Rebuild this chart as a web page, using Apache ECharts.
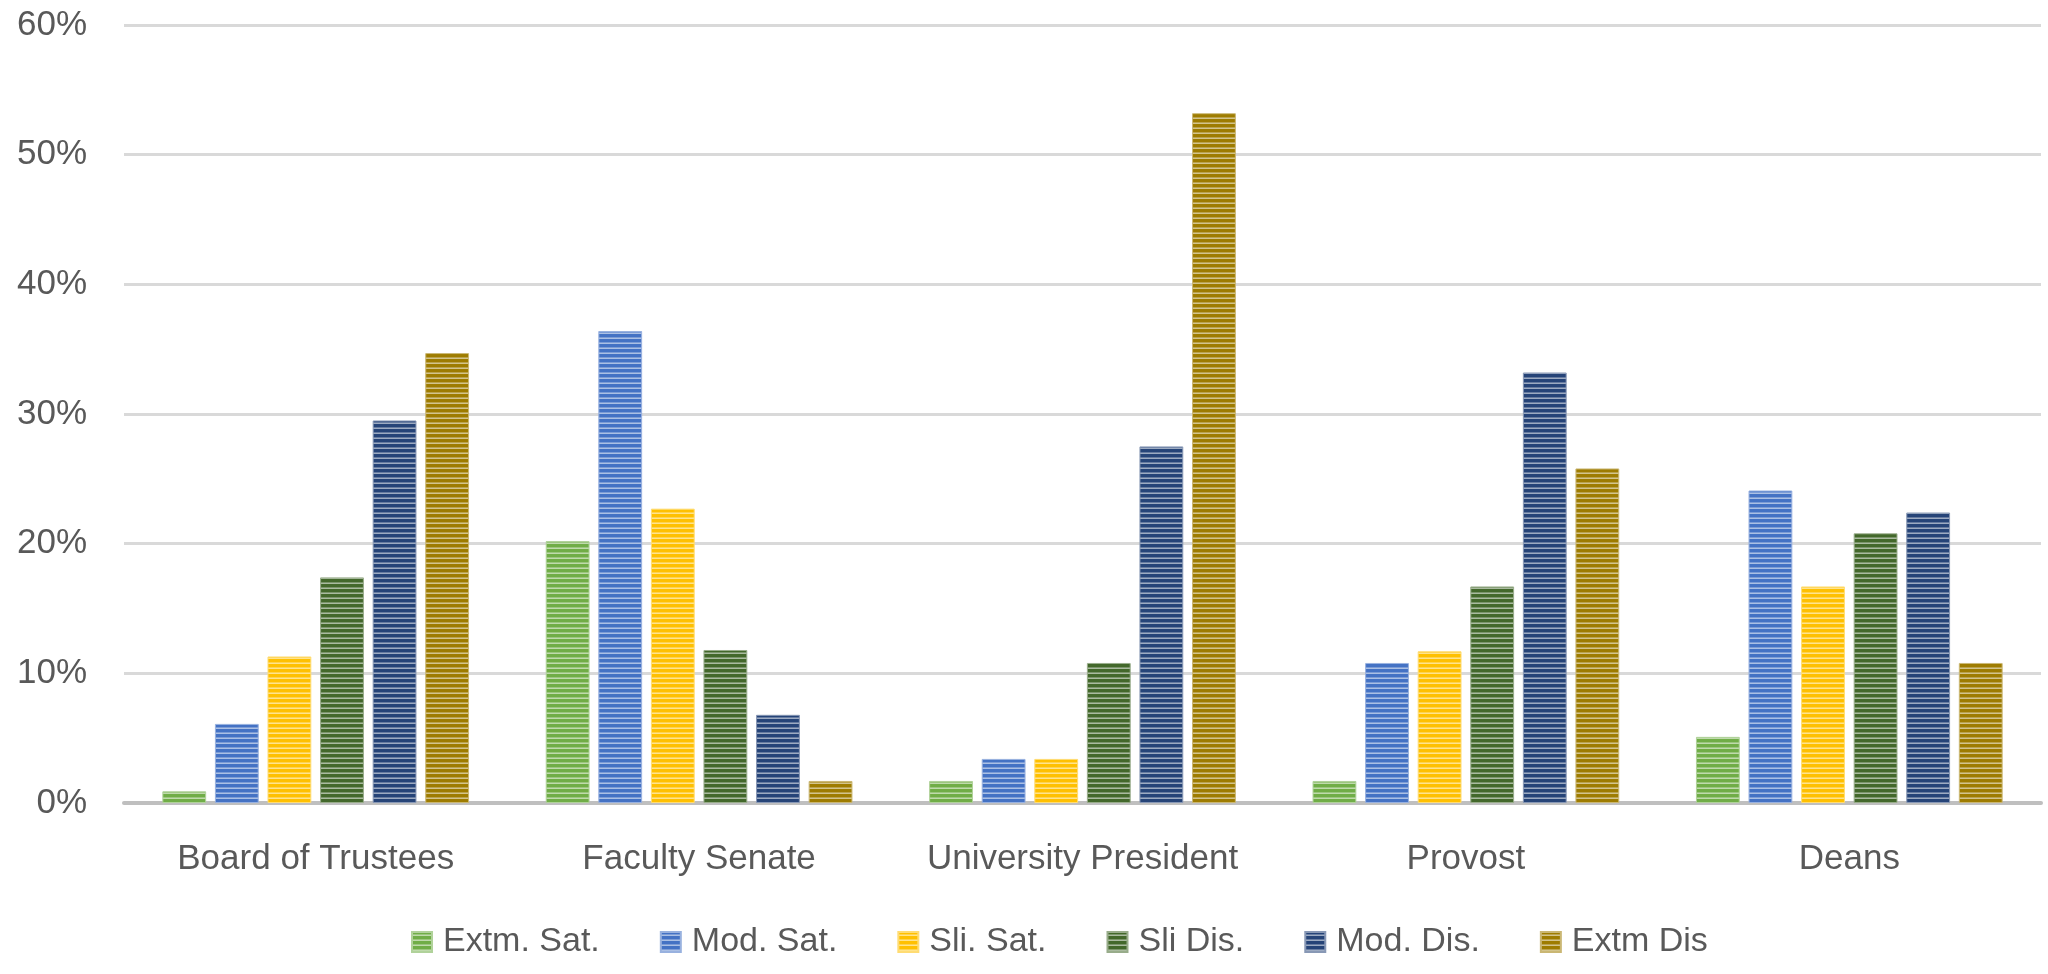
<!DOCTYPE html>
<html>
<head>
<meta charset="utf-8">
<script src="https://cdn.jsdelivr.net/npm/echarts@6/dist/echarts.min.js"></script>
<style>
  html, body { margin: 0; padding: 0; background: #ffffff; }
  #chart { width: 2048px; height: 974px; }
</style>
</head>
<body>
<div id="chart"></div>
<script>
const categories = ['Board of Trustees', 'Faculty Senate', 'University President', 'Provost', 'Deans'];
const seriesNames = ['Extm. Sat.', 'Mod. Sat.', 'Sli. Sat.', 'Sli Dis.', 'Mod. Dis.', 'Extm Dis'];
const extmSat = [0.9, 20.2, 1.7, 1.7, 5.1];
const modSat  = [6.1, 36.4, 3.4, 10.8, 24.1];
const sliSat  = [11.3, 22.7, 3.4, 11.7, 16.7];
const sliDis  = [17.4, 11.8, 10.8, 16.7, 20.8];
const modDis  = [29.5, 6.8, 27.5, 33.2, 22.4];
const extmDis = [34.7, 1.7, 53.2, 25.8, 10.8];
const yTicks = [0, 10, 20, 30, 40, 50, 60];

const seriesData = [extmSat, modSat, sliSat, sliDis, modDis, extmDis];
const colors = ['#70AD47', '#4472C4', '#FFC000', '#43682B', '#264478', '#9E7C00'];

function hexToRgb(h) {
  const n = parseInt(h.slice(1), 16);
  return [(n >> 16) & 255, (n >> 8) & 255, n & 255];
}
function lighten(h, t) {
  const c = hexToRgb(h);
  return 'rgb(' + c.map(v => Math.round(v + (255 - v) * t)).join(',') + ')';
}
function makePattern(h) {
  const cv = document.createElement('canvas');
  cv.width = 8; cv.height = 5;
  const ctx = cv.getContext('2d');
  ctx.fillStyle = h;
  ctx.fillRect(0, 0, 8, 5);
  ctx.fillStyle = lighten(h, 0.3);
  ctx.fillRect(0, 2, 8, 1);
  ctx.fillStyle = lighten(h, 0.55);
  ctx.fillRect(0, 3, 8, 1);
  return { image: cv, repeat: 'repeat' };
}

const font = '"Liberation Sans", Arial, sans-serif';
const chart = echarts.init(document.getElementById('chart'), null, { renderer: 'canvas' });

const series = seriesNames.map((name, i) => ({
  name: name,
  type: 'bar',
  data: seriesData[i],
  barGap: '20%',
  barCategoryGap: '20%',
  itemStyle: {
    color: makePattern(colors[i]),
    borderColor: lighten(colors[i], 0.45),
    borderWidth: 1
  },
  emphasis: { disabled: true }
}));

chart.setOption({
  animation: false,
  backgroundColor: '#ffffff',
  grid: { left: 124, right: 7, top: 25, bottom: 171, containLabel: false },
  legend: {
    data: seriesNames,
    bottom: 10,
    left: 406,
    icon: 'rect',
    itemWidth: 20,
    itemHeight: 20,
    itemGap: 60,
    textStyle: { fontFamily: font, fontSize: 34, color: '#595959', padding: [0, 0, 0, 6] }
  },
  xAxis: {
    type: 'category',
    data: categories,
    axisLine: { show: true, lineStyle: { color: '#bfbfbf', width: 4 } },
    axisTick: { show: false },
    axisLabel: { interval: 0, fontFamily: font, fontSize: 35, color: '#595959', margin: 36, lineHeight: 40 },
    splitLine: { show: false }
  },
  yAxis: {
    type: 'value',
    min: yTicks[0],
    max: yTicks[yTicks.length - 1],
    interval: yTicks[1] - yTicks[0],
    axisLine: { show: false },
    axisTick: { show: false },
    axisLabel: { fontFamily: font, fontSize: 35, color: '#595959', margin: 37, formatter: '{value}%' },
    splitLine: { show: true, lineStyle: { color: '#d9d9d9', width: 3 } }
  },
  series: series
});
</script>
</body>
</html>
